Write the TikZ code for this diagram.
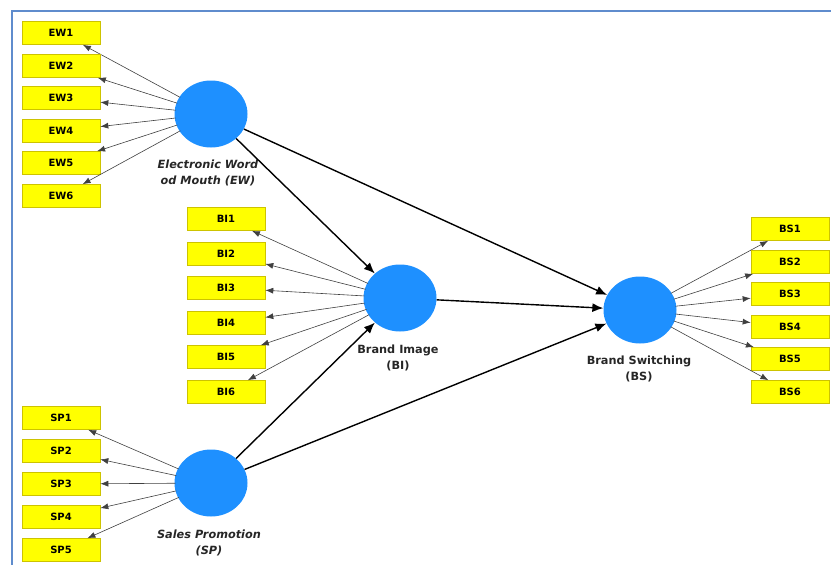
\documentclass[tikz,border=0pt]{standalone}
\usepackage{fontspec}
\setmainfont{DejaVu Sans}
\usetikzlibrary{shapes.geometric,arrows.meta}
\definecolor{frameblue}{RGB}{95,140,205}
\definecolor{lvblue}{RGB}{30,144,255}
\definecolor{boxyellow}{RGB}{255,255,0}
\definecolor{boxedge}{RGB}{205,195,0}
\tikzset{
  ind/.style={rectangle,fill=boxyellow,draw=boxedge,line width=0.6pt,minimum width=78pt,minimum height=23pt,inner sep=0pt,font=\fontsize{10}{12}\selectfont\bfseries},
  lv/.style={ellipse,fill=lvblue,draw=none,minimum width=73pt,minimum height=67pt,inner sep=0pt},
  lvlabel/.style={align=center,font=\fontsize{11.3}{16}\selectfont\bfseries,text=black!85},
  lvitlabel/.style={lvlabel,font=\fontsize{11.3}{16}\selectfont\bfseries\itshape},
  load/.style={-{Latex[length=8pt,width=6pt]},line width=0.6pt,black!75,shorten <=-1pt},
  path/.style={-{Latex[length=11pt,width=9pt]},line width=1.4pt,black}
}
\begin{document}
\begin{tikzpicture}[x=1pt,y=-1pt]
\useasboundingbox (0,0) rectangle (831,565);
\draw[frameblue,line width=2pt] (12,565) -- (12,11) -- (831,11);
% latent variables
\node[lv] (EW) at (211,114) {};
\node[lv] (BI) at (400,298) {};
\node[lv] (BS) at (640,310) {};
\node[lv] (SP) at (211,483) {};
% labels
\node[lvitlabel] (EWl) at (208,173) {Electronic Word\\od Mouth (EW)};
\node[lvlabel] (BIl) at (398,358) {Brand Image\\(BI)};
\node[lvlabel] (BSl) at (639,369) {Brand Switching\\(BS)};
\node[lvitlabel] (SPl) at (209,543) {Sales Promotion\\(SP)};
% EW indicators
\foreach \i/\y in {1/33,2/66,3/98,4/131,5/163,6/196}{
  \node[ind] (ew\i) at (61,\y) {EW\i};
  \draw[load] (EW) -- (ew\i);
}
% BI indicators
\foreach \i/\y in {1/219,2/254,3/288,4/323,5/357,6/392}{
  \node[ind] (bi\i) at (226,\y) {BI\i};
  \draw[load] (BI) -- (bi\i);
}
% BS indicators
\foreach \i/\y in {1/229,2/262,3/294,4/327,5/359,6/392}{
  \node[ind] (bs\i) at (790,\y) {BS\i};
  \draw[load] (BS) -- (bs\i);
}
% SP indicators
\foreach \i/\y in {1/418,2/451,3/484,4/517,5/550}{
  \node[ind] (sp\i) at (61,\y) {SP\i};
  \draw[load] (SP) -- (sp\i);
}
% structural paths
\draw[path] (EW) -- (BI);
\draw[path] (EW) -- (BS);
\draw[path] (BI) -- (BS);
\draw[path] (SP) -- (BI);
\draw[path] (SP) -- (BS);
\end{tikzpicture}
\end{document}
